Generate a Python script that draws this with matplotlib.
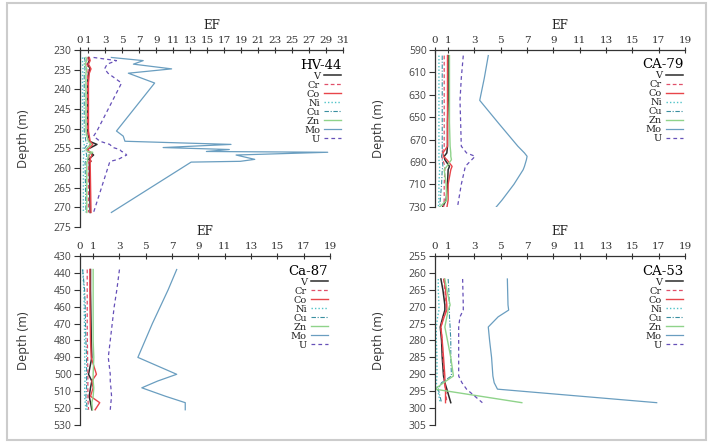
import matplotlib
matplotlib.use("Agg")
import matplotlib.pyplot as plt
from matplotlib.patches import Rectangle

plt.rcParams['font.family'] = ['DejaVu Serif']

elements = ["V", "Cr", "Co", "Ni", "Cu", "Zn", "Mo", "U"]

# ---- HV-44 ----
hv44_depth = [231.9, 232.7, 233.6, 234.8, 235.9, 238.4, 250.6, 251.9, 253.2, 254.0, 254.8,
              255.3, 255.8, 256.0, 256.7, 257.8, 258.3, 258.5, 271.3]
hv44 = {
    "V":  [1.0, 1.1, 0.9, 1.2, 1.0, 0.9, 0.9, 1.0, 1.1, 2.0, 1.3, 0.8, 1.0, 1.2, 1.6, 1.0, 1.3, 1.1, 1.2],
    "Cr": [0.9, 1.0, 0.8, 1.0, 0.9, 0.9, 0.9, 1.0, 1.0, 1.2, 1.0, 0.8, 0.9, 1.0, 1.1, 1.0, 1.1, 1.0, 1.0],
    "Co": [1.1, 1.2, 1.0, 1.3, 1.1, 1.0, 1.0, 1.1, 1.2, 1.5, 1.2, 0.9, 1.1, 1.2, 1.4, 1.2, 1.3, 1.2, 1.3],
    "Ni": [0.3, 0.3, 0.3, 0.35, 0.3, 0.3, 0.3, 0.35, 0.4, 0.5, 0.4, 0.3, 0.35, 0.4, 0.45, 0.4, 0.4, 0.4, 0.4],
    "Cu": [0.5, 0.6, 0.5, 0.6, 0.5, 0.5, 0.5, 0.6, 0.7, 0.9, 0.6, 0.5, 0.6, 0.7, 0.8, 0.7, 0.7, 0.6, 0.7],
    "Zn": [0.7, 0.8, 0.6, 0.8, 0.7, 0.7, 0.7, 0.8, 1.0, 1.3, 0.9, 0.7, 0.9, 1.5, 1.0, 0.9, 0.9, 0.8, 0.8],
    "Mo": [3.7, 7.45, 6.3, 10.8, 5.7, 8.8, 4.3, 5.1, 5.3, 17.8, 9.8, 17.6, 14.9, 29.2, 18.4, 20.6, 18.9, 13.1, 3.7],
    "U":  [1.6, 4.3, 3.2, 2.9, 3.3, 4.9, 2.0, 1.6, 2.35, 3.5, 3.9, 4.7, 4.9, 5.2, 5.5, 4.5, 3.6, 3.5, 1.6],
}

# ---- CA-79 ----
ca79_depth = [595, 615, 635, 655, 676, 682, 685, 688, 694, 697, 710, 724, 731]
ca79 = {
    "V":  [1.0, 1.0, 1.0, 0.95, 0.95, 0.9, 0.7, 0.75, 1.1, 1.0, 0.95, 0.85, 0.55],
    "Cr": [0.7, 0.7, 0.7, 0.7, 0.7, 0.55, 0.5, 0.6, 0.75, 0.75, 0.7, 0.7, 0.65],
    "Co": [0.95, 0.95, 0.95, 0.95, 0.95, 0.6, 0.65, 0.9, 1.3, 1.2, 1.0, 1.0, 0.9],
    "Ni": [0.3, 0.3, 0.3, 0.3, 0.3, 0.3, 0.3, 0.3, 0.35, 0.35, 0.3, 0.3, 0.25],
    "Cu": [0.55, 0.55, 0.55, 0.55, 0.55, 0.55, 0.5, 0.55, 0.6, 0.55, 0.5, 0.4, 0.35],
    "Zn": [1.1, 1.1, 1.1, 1.1, 1.15, 1.2, 1.2, 1.25, 0.9, 0.7, 0.85, 0.9, 0.3],
    "Mo": [4.05, 3.75, 3.4, 4.8, 6.3, 6.8, 7.0, 6.95, 6.8, 6.7, 6.0, 5.1, 4.6],
    "U":  [2.15, 2.0, 1.9, 1.95, 2.0, 2.4, 3.05, 2.8, 2.3, 2.25, 2.0, 1.8, 1.7],
}

# ---- Ca-87 ----
ca87_depth = [438, 450, 460, 470, 480, 490, 500, 504, 508, 513, 516.8, 521]
ca87 = {
    "V":  [0.8, 0.8, 0.82, 0.84, 0.86, 0.9, 0.65, 0.9, 0.8, 0.7, 0.8, 0.9],
    "Cr": [0.55, 0.55, 0.55, 0.55, 0.56, 0.58, 0.6, 0.6, 0.6, 0.6, 0.62, 0.65],
    "Co": [0.75, 0.75, 0.76, 0.78, 0.8, 0.85, 1.25, 0.9, 1.0, 0.8, 1.5, 1.15],
    "Ni": [0.2, 0.3, 0.32, 0.34, 0.35, 0.36, 0.38, 0.38, 0.36, 0.35, 0.4, 0.45],
    "Cu": [0.2, 0.35, 0.4, 0.42, 0.45, 0.5, 0.5, 0.5, 0.5, 0.45, 0.5, 0.55],
    "Zn": [1.0, 1.0, 1.0, 1.0, 1.0, 1.05, 1.0, 1.0, 1.05, 1.0, 0.9, 0.95],
    "Mo": [7.35, 6.7, 6.1, 5.5, 4.95, 4.4, 7.35, 5.9, 4.7, 6.5, 8.0, 8.0],
    "U":  [3.0, 2.8, 2.6, 2.45, 2.3, 2.15, 2.3, 2.3, 2.35, 2.4, 2.35, 2.3],
}

# ---- CA-53 ----
ca53_depth = [261.8, 265, 269.5, 271, 273, 276, 280, 285, 290.5, 292.5, 294.4, 298.4]
ca53 = {
    "V":  [0.45, 0.6, 0.75, 0.75, 0.6, 0.4, 0.5, 0.55, 0.65, 0.75, 0.9, 1.2],
    "Cr": [0.65, 0.75, 0.85, 0.85, 0.65, 0.45, 0.55, 0.6, 0.7, 0.7, 0.8, 0.9],
    "Co": [0.7, 0.8, 0.9, 0.9, 0.7, 0.45, 0.55, 0.65, 0.75, 0.75, 0.8, 0.8],
    "Ni": [0.25, 0.25, 0.3, 0.3, 0.2, 0.1, 0.1, 0.15, 0.15, 0.1, 0.2, 0.4],
    "Cu": [1.0, 1.05, 1.1, 1.1, 1.1, 1.15, 1.2, 1.2, 1.25, 0.5, 0.25, 0.5],
    "Zn": [0.75, 0.9, 1.15, 1.0, 0.9, 0.75, 0.95, 1.2, 1.4, 0.65, 0.0, 6.6],
    "Mo": [5.5, 5.52, 5.55, 5.6, 4.8, 4.05, 4.15, 4.3, 4.4, 4.5, 4.75, 16.85],
    "U":  [2.1, 2.12, 2.15, 2.15, 1.9, 1.8, 1.8, 1.8, 1.8, 2.05, 2.4, 3.6],
}

styles = {
    "V":  dict(color="#2b2b2b", ls="-", lw=1.1),
    "Cr": dict(color="#e0506a", ls=(0, (3, 2)), lw=0.9),
    "Co": dict(color="#e8454a", ls="-", lw=1.0),
    "Ni": dict(color="#4fc3c8", ls=(0, (1, 1.5)), lw=1.0),
    "Cu": dict(color="#3a8fa0", ls=(0, (4, 1.5, 1, 1.5)), lw=0.8),
    "Zn": dict(color="#8fd38a", ls="-", lw=1.0),
    "Mo": dict(color="#6a9ec0", ls="-", lw=0.9),
    "U":  dict(color="#6650b8", ls=(0, (3, 2.5)), lw=0.9),
}

panels = [
    ("HV-44", hv44_depth, hv44, [0.1125, 0.4864, 0.3699, 0.4005],
     [0, 1] + list(range(3, 32, 2)), (230, 275), list(range(230, 276, 5)), -0.19),
    ("CA-79", ca79_depth, ca79, [0.6118, 0.5324, 0.3516, 0.3545],
     [0, 1] + list(range(3, 20, 2)), (590, 730), list(range(590, 731, 20)), -0.2),
    ("Ca-87", ca87_depth, ca87, [0.1125, 0.0385, 0.3516, 0.3823],
     [0, 1] + list(range(3, 20, 2)), (430, 530), list(range(430, 531, 10)), -0.2),
    ("CA-53", ca53_depth, ca53, [0.6118, 0.0385, 0.3516, 0.3823],
     [0, 1] + list(range(3, 20, 2)), (255, 305), list(range(255, 306, 5)), -0.2),
]

fig = plt.figure(figsize=(7.11, 4.42), dpi=100)
fig.patches.append(Rectangle((7 / 711, 2 / 442), 699 / 711, 437 / 442, transform=fig.transFigure,
                             fill=False, edgecolor="#cccccc", linewidth=1.5))

for name, depth, data, rect, xticks, ylim, yticks, ylab_x in panels:
    ax = fig.add_axes(rect)
    for el in elements:
        ax.plot(data[el], depth, label=el, **styles[el])
    ax.set_xlim(0, xticks[-1])
    ax.set_ylim(ylim[1], ylim[0])
    ax.set_xticks(xticks)
    ax.set_yticks(yticks)
    ax.xaxis.tick_top()
    ax.xaxis.set_label_position("top")
    ax.spines["right"].set_visible(False)
    ax.spines["bottom"].set_visible(False)
    for s in ("top", "left"):
        ax.spines[s].set_color("#333333")
        ax.spines[s].set_linewidth(0.9)
    ax.tick_params(axis="x", direction="inout", length=5, width=0.8, labelsize=7.5, pad=1,
                   colors="#333333", labelcolor="#333333")
    ax.tick_params(axis="y", direction="out", length=4, width=0.8, labelsize=7.5, pad=2,
                   colors="#333333", labelcolor="#444444")
    for lab in ax.get_yticklabels():
        lab.set_fontfamily("Open Sans")
    ax.set_xlabel("EF", fontsize=8.5, labelpad=5, color="#222222")
    ax.set_ylabel("Depth (m)", fontsize=9, color="#333333", family="Open Sans")
    ax.yaxis.set_label_coords(ylab_x, 0.5)
    leg = ax.legend(loc="upper right", bbox_to_anchor=(1.02, 0.99), frameon=False,
                    markerfirst=False, fontsize=7, labelspacing=0.0, handlelength=1.8,
                    handletextpad=0.4, borderpad=0.2, title=name, title_fontsize=9.5,
                    alignment="right")
    for t in leg.get_texts():
        t.set_color("#222222")

fig.savefig("out.png", dpi=100)
